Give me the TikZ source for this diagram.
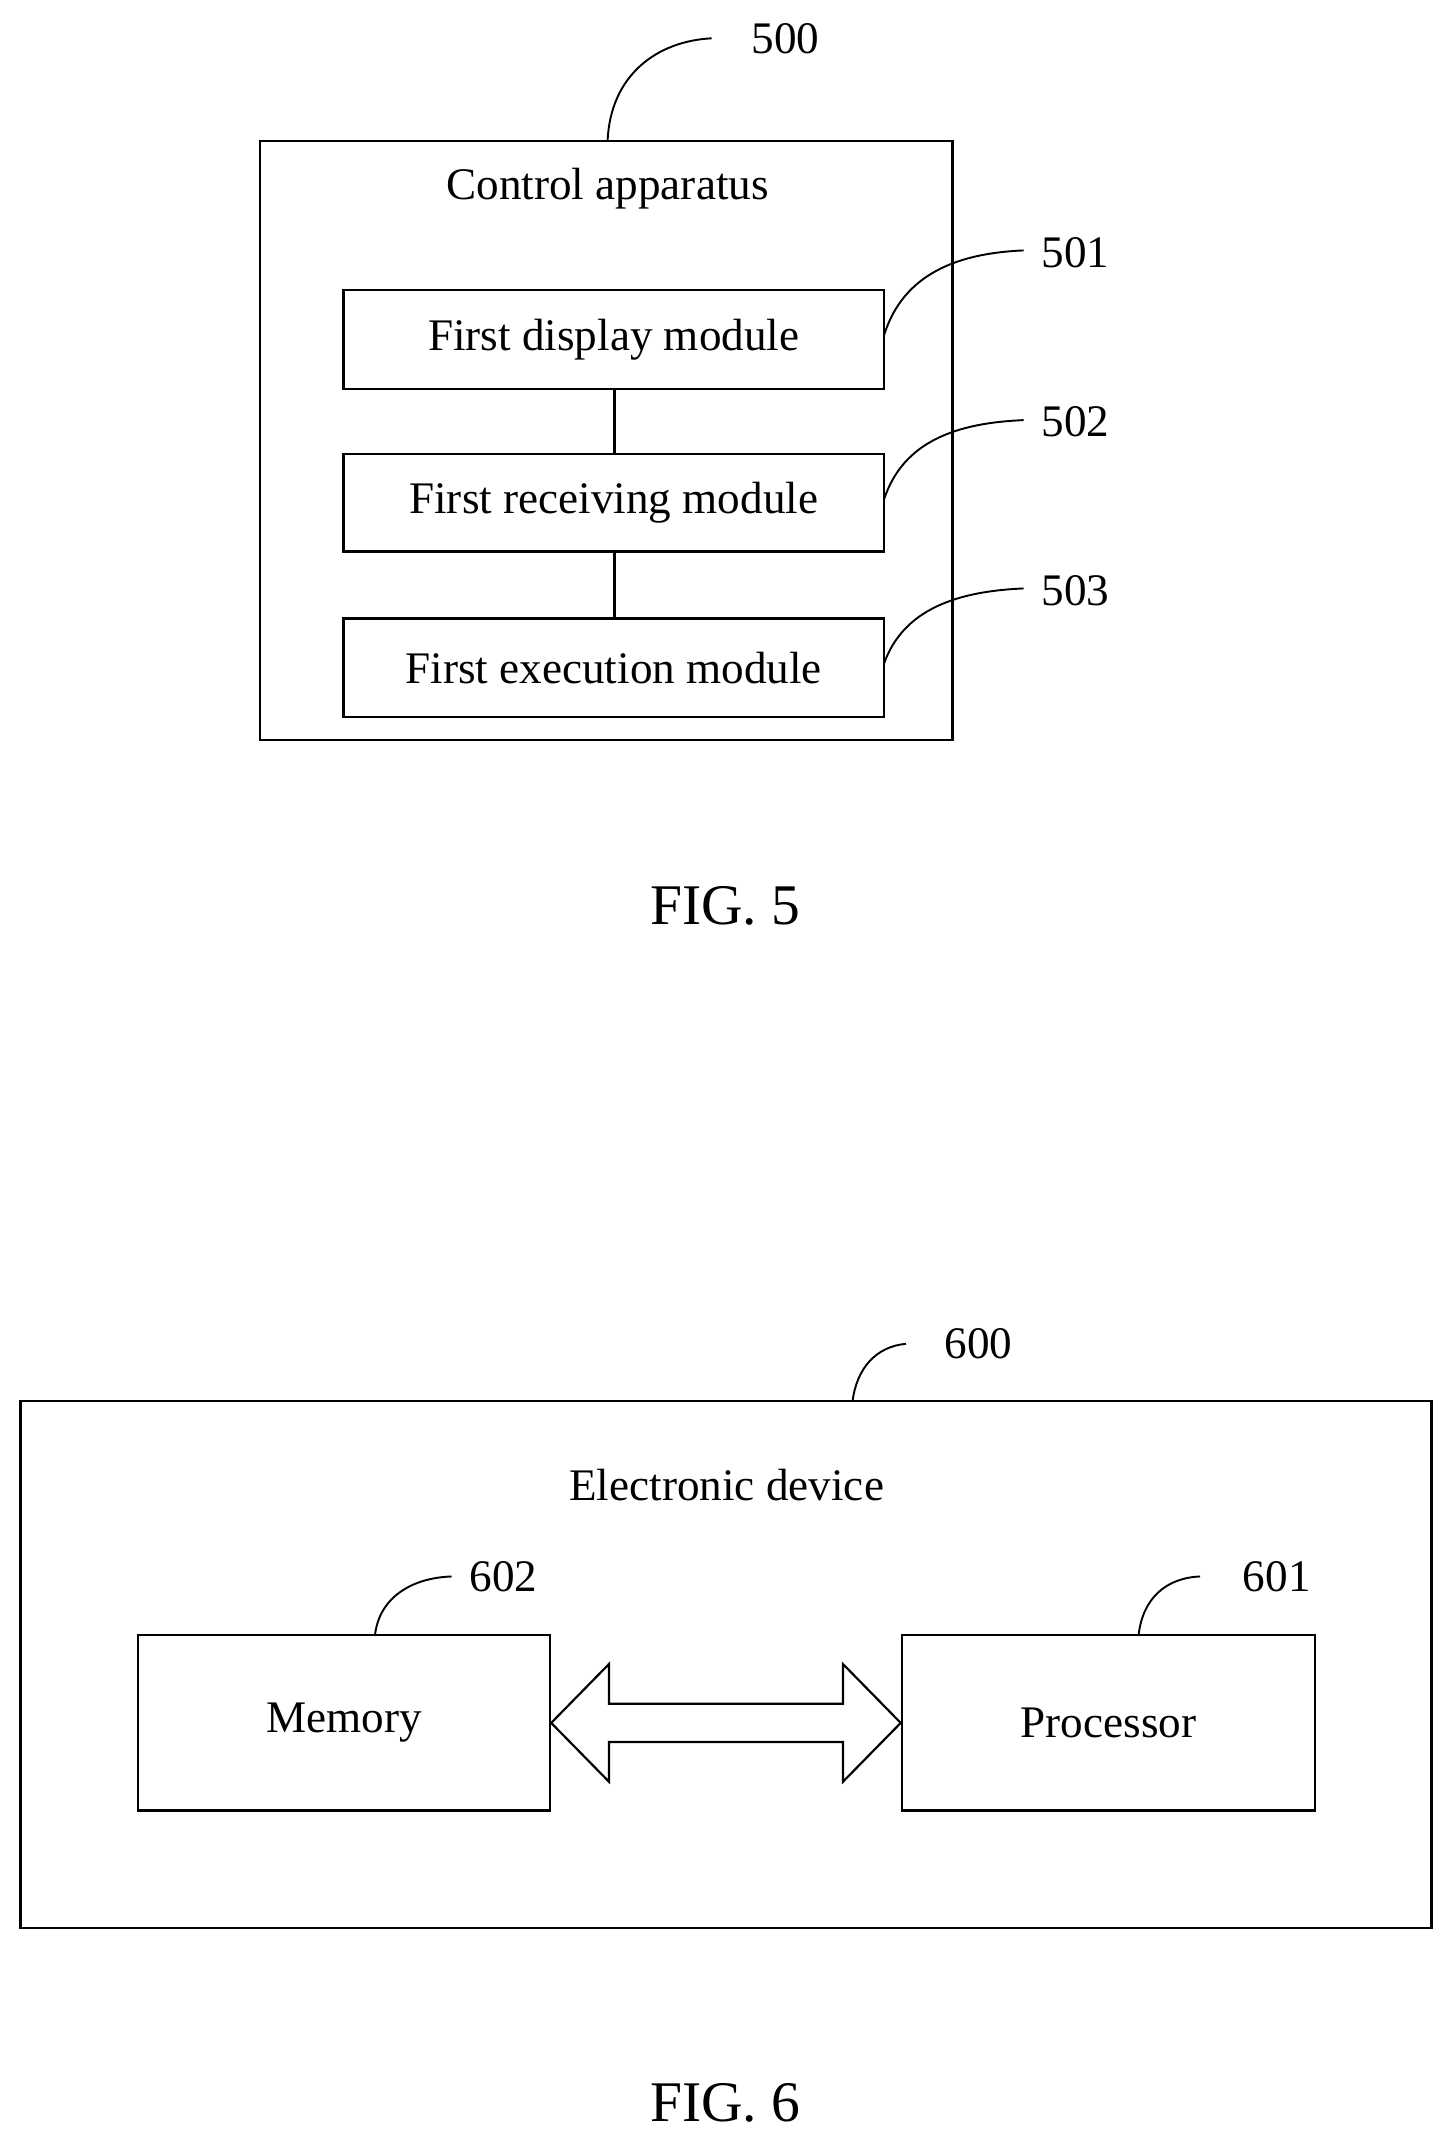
\documentclass[tikz,border=0pt]{standalone}
\usepackage{fontspec}
\setmainfont{Liberation Serif}
\begin{document}
\begin{tikzpicture}[x=1pt,y=-1pt,line width=1.6pt,
 box/.style={draw,rectangle,inner sep=0},
 txt/.style={font=\fontsize{33}{38}\selectfont},
 fig/.style={font=\fontsize{42}{48}\selectfont},
 lead/.style={line width=1.4pt}]
\useasboundingbox (0,0) rectangle (1060,1566);
% FIG 5
\draw (190,103) rectangle (696,541);
\node[txt] (t5) at (444,138) {Control apparatus};
\node[box,minimum width=395pt,minimum height=72pt] (b1) at (448.5,248) {};
\node[box,minimum width=395pt,minimum height=71pt] (b2) at (448.5,367.5) {};
\node[box,minimum width=395pt,minimum height=72pt] (b3) at (448.5,488) {};
\node[txt] at (b1) {First display module};
\node[txt] at (b2) {First receiving module};
\node[txt] at (b3) {First execution module};
\draw (449,284) -- (449,332);
\draw (449,403) -- (449,452);
\node[txt] (l500) at (574,28) {500};
\node[txt] (l501) at (786,185) {501};
\node[txt] (l502) at (786,308) {502};
\node[txt] (l503) at (786,432) {503};
\coordinate (c500) at (444,103);
\draw[lead] (c500) .. controls (446,55) and (480,30) .. (520,28);
\draw[lead] (646,245) .. controls (660,200) and (700,185) .. (748,183);
\draw[lead] (646,365) .. controls (660,322) and (700,309) .. (748,307);
\draw[lead] (646,485) .. controls (660,445) and (700,432) .. (748,430);
\node[fig] (f5) at (530,662) {FIG. 5};
% FIG 6
\draw (15,1024) rectangle (1046,1409);
\node[txt] (t6) at (531,1085) {Electronic device};
\node[box,minimum width=301pt,minimum height=128pt] (mem) at (251.5,1259) {};
\node[box,minimum width=302pt,minimum height=128pt] (proc) at (810,1259) {};
\node[txt] at (mem) {Memory};
\node[txt] at (proc) {Processor};
\draw (mem.east) -- (445,1216) -- (445,1245) -- (616,1245) -- (616,1216) -- (proc.west)
 -- (616,1302) -- (616,1273) -- (445,1273) -- (445,1302) -- cycle;
\node[txt] (l600) at (715,982) {600};
\node[txt] (l602) at (368,1152) {602};
\node[txt] (l601) at (933,1152) {601};
\draw[lead] (623,1024) .. controls (626,1000) and (640,984) .. (662,982);
\draw[lead] (274,1195) .. controls (277,1168) and (300,1153) .. (330,1152);
\draw[lead] (832,1195) .. controls (835,1168) and (852,1153) .. (877,1152);
\node[fig] (f6) at (530,1537) {FIG. 6};
\end{tikzpicture}
\end{document}
